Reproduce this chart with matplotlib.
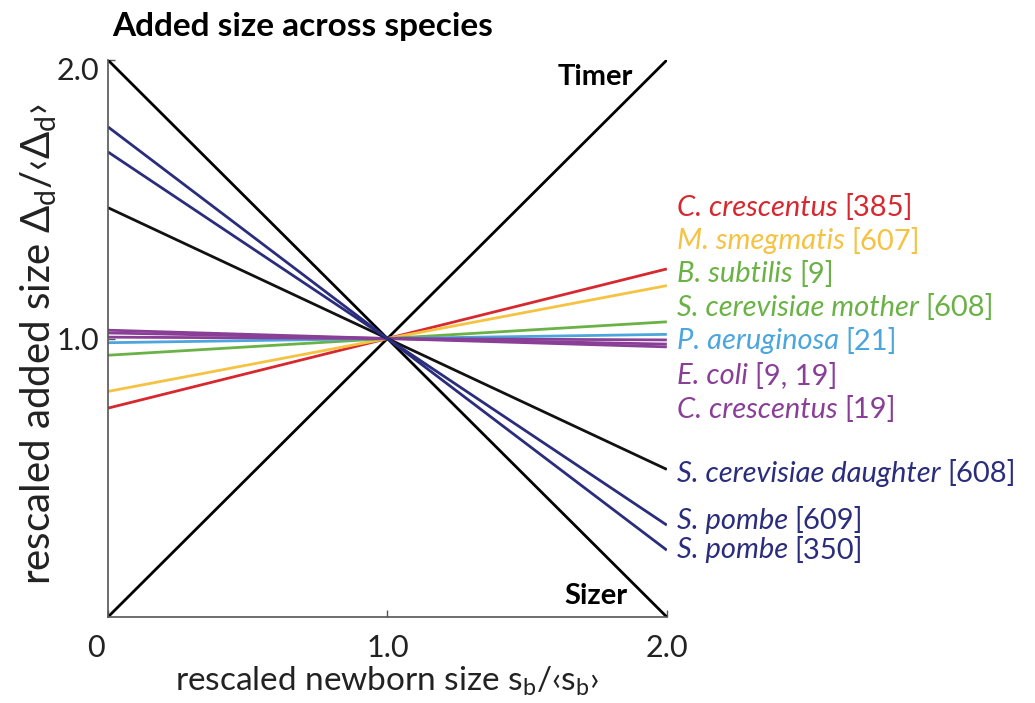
import matplotlib
matplotlib.use('Agg')

import matplotlib.pyplot as plt
import matplotlib.transforms as mtransforms
import numpy as np

# data: value of each fitted line at s_b = 0 and s_b = 2 (all cross at 1,1)
species = ["C. crescentus", "M. smegmatis", "B. subtilis", "S. cerevisiae mother",
           "P. aeruginosa", "E. coli", "C. crescentus",
           "S. cerevisiae daughter", "S. pombe", "S. pombe"]
refs = ["[385]", "[607]", "[9]", "[608]", "[21]", "[9, 19]", "[19]",
        "[608]", "[609]", "[350]"]
label_colors = ["#d7282f", "#f5c242", "#6ab245", "#6ab245", "#4ba6dd",
                "#8a3f97", "#8a3f97", "#2a2d7c", "#2a2d7c", "#2a2d7c"]

line_start = [0.75, 0.81, 0.94, 0.985, 1.03, 1.02, 1.005, 1.47, 1.67, 1.76]
line_end = [1.25, 1.19, 1.06, 1.015, 0.97, 0.98, 0.995, 0.53, 0.33, 0.24]
line_colors = ["#d7282f", "#f5c242", "#6ab245", "#4ba6dd", "#8a3f97",
               "#8a3f97", "#8a3f97", "#111111", "#2a2d7c", "#2a2d7c"]

timer = [0.0, 2.0]
sizer = [2.0, 0.0]
x_ends = [0.0, 2.0]

xticks = [0, 1, 2]
xlabels = ["0", "1.0", "2.0"]
yticks = [1, 2]
ylabels = ["1.0", "2.0"]

plt.rcParams['font.family'] = ['Lato', 'DejaVu Sans']
plt.rcParams['mathtext.fontset'] = 'custom'
plt.rcParams['mathtext.rm'] = 'Lato'
plt.rcParams['mathtext.it'] = 'Lato:italic'

fig = plt.figure(figsize=(10.35, 7.03), dpi=100)
ax = fig.add_axes([0.1043, 0.1223, 0.540, 0.7923])

ax.plot(x_ends, timer, color='black', lw=2.0, solid_capstyle='butt')
ax.plot(x_ends, sizer, color='black', lw=2.0, solid_capstyle='butt')
for s, e, c in zip(line_start, line_end, line_colors):
    ax.plot(x_ends, [s, e], color=c, lw=2.0, solid_capstyle='butt')

ax.set_xlim(0, 2)
ax.set_ylim(0, 2)
for sp in ['top', 'right']:
    ax.spines[sp].set_visible(False)
for sp in ['left', 'bottom']:
    ax.spines[sp].set_color('#555555')
    ax.spines[sp].set_linewidth(1.2)

ax.set_xticks(xticks)
ax.set_xticklabels(xlabels, fontsize=22, color='#222222')
ax.set_yticks(yticks)
ax.set_yticklabels(ylabels, fontsize=22, color='#222222')
ax.tick_params(direction='in', length=5, width=1, color='#555555')
ax.tick_params(axis='x', pad=12)
ax.tick_params(axis='y', pad=6)

# nudge a couple of tick labels like the original
top_lbl = ax.get_yticklabels()[1]
top_lbl.set_transform(top_lbl.get_transform() +
                      mtransforms.ScaledTranslation(0, -6 / 72, fig.dpi_scale_trans))
zero_lbl = ax.get_xticklabels()[0]
zero_lbl.set_transform(zero_lbl.get_transform() +
                       mtransforms.ScaledTranslation(-9 / 72, 0, fig.dpi_scale_trans))

ax.set_xlabel('rescaled newborn size s$_\\mathrm{b}$/‹s$_\\mathrm{b}$›', fontsize=24,
              color='#222222', labelpad=2)
ax.set_ylabel('rescaled added size Δ$_\\mathrm{d}$/‹Δ$_\\mathrm{d}$›', fontsize=29,
              color='#222222')
ax.yaxis.set_label_coords(-0.088, 0.49)

fig.text(0.108, 0.962, "Added size across species", fontsize=24, fontweight='bold',
         ha='left', va='center')

ax.text(1.88, 1.94, "Timer", fontsize=21, fontweight='bold', ha='right', va='center')
ax.text(1.86, 0.075, "Sizer", fontsize=21, fontweight='bold', ha='right', va='center')

# right-hand labels
label_y = [1.47, 1.35, 1.23, 1.11, 0.99, 0.865, 0.745, 0.515, 0.345, 0.24]
for name, ref, c, yv in zip(species, refs, label_colors, label_y):
    ax.annotate(name + " ", xy=(2.035, yv), xycoords='data', fontsize=21,
                style='italic', color=c, ha='left', va='center',
                annotation_clip=False)
    t = ax.texts[-1]
    ax.annotate(ref, xy=(1, 0.5), xycoords=t, xytext=(0, 0), textcoords='offset points',
                fontsize=21, color=c, ha='left', va='center', annotation_clip=False)

fig.savefig("out.png", dpi=100)
